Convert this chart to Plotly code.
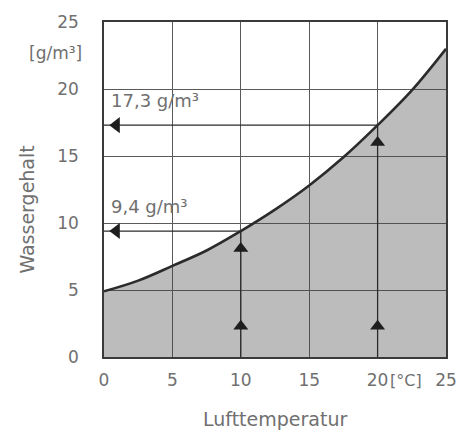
import plotly.graph_objects as go

# Data
temperature = [0, 2.5, 5, 7.5, 10, 12.5, 15, 17.5, 20, 22.5, 25]
water_content = [4.9, 5.7, 6.8, 7.95, 9.4, 11.0, 12.8, 14.9, 17.3, 19.9, 23.0]
example_temps = [10, 20]
example_values = [9.4, 17.3]
example_labels = ["9,4 g/m³", "17,3 g/m³"]
x_ticks = [0, 5, 10, 15, 20, 25]
y_ticks = [0, 5, 10, 15, 20, 25]

font_family = "DejaVu Sans, Arial, sans-serif"
txt = "#707070"
dark = "#2b2b2b"

fig = go.Figure()

# gray area below the curve
fig.add_trace(go.Scatter(
    x=temperature, y=water_content, mode="lines",
    line=dict(color=dark, width=2.6, shape="spline", smoothing=1.0),
    fill="tozeroy", fillcolor="rgba(70,70,70,0.36)",
    hoverinfo="skip", showlegend=False))

for t, v in zip(example_temps, example_values):
    fig.add_trace(go.Scatter(x=[t, t], y=[0, v], mode="lines",
                             line=dict(color=dark, width=1.3),
                             hoverinfo="skip", showlegend=False))
    fig.add_trace(go.Scatter(x=[0, t], y=[v, v], mode="lines",
                             line=dict(color=dark, width=1.3),
                             hoverinfo="skip", showlegend=False))
    fig.add_trace(go.Scatter(x=[t, t], y=[2.3, v - 1.3], mode="markers",
                             marker=dict(symbol="triangle-up", size=13, color="#1e1e1e"),
                             hoverinfo="skip", showlegend=False))
    fig.add_trace(go.Scatter(x=[0.9], y=[v], mode="markers",
                             marker=dict(symbol="triangle-left", size=14, color="#1e1e1e"),
                             hoverinfo="skip", showlegend=False))

annotations = []
for v, lab in zip(example_values, example_labels):
    annotations.append(dict(x=0.4, y=v + 1.85, xref="x", yref="y", text=lab,
                            showarrow=False, xanchor="left", yanchor="middle",
                            font=dict(size=18, color=txt, family=font_family)))

annotations += [
    dict(x=0, y=22.7, xref="paper", yref="y", text="[g/m³]", showarrow=False,
         xanchor="right", yanchor="middle", xshift=-20,
         font=dict(size=17, color=txt, family=font_family)),
    dict(x=22.1, y=0, xref="x", yref="y", text="[°C]", showarrow=False,
         xanchor="center", yanchor="middle", yshift=-23,
         font=dict(size=16, color=txt, family=font_family)),
    dict(x=0, y=0.44, xref="paper", yref="paper", text="Wassergehalt", showarrow=False,
         textangle=-90, xanchor="center", yanchor="middle", xshift=-77,
         font=dict(size=19, color=txt, family=font_family)),
    dict(x=0.5, y=0, xref="paper", yref="paper", text="Lufttemperatur", showarrow=False,
         xanchor="center", yanchor="middle", yshift=-62,
         font=dict(size=19, color=txt, family=font_family)),
]

fig.update_layout(
    width=473, height=435,
    margin=dict(l=104, r=27, t=18, b=78),
    paper_bgcolor="white", plot_bgcolor="white",
    annotations=annotations,
    font=dict(family=font_family, color=txt),
)
fig.update_xaxes(range=[0, 25], tickvals=x_ticks,
                 showgrid=True, gridcolor="#5a5a5a", gridwidth=1,
                 showline=True, linecolor="#3a3a3a", linewidth=1.5, mirror=True,
                 ticks="outside", ticklen=7, tickcolor="rgba(0,0,0,0)",
                 tickfont=dict(size=17, color=txt), zeroline=False)
fig.update_yaxes(range=[0, 25], tickvals=y_ticks,
                 showgrid=True, gridcolor="#5a5a5a", gridwidth=1,
                 showline=True, linecolor="#3a3a3a", linewidth=1.5, mirror=True,
                 ticks="outside", ticklen=20, tickcolor="rgba(0,0,0,0)",
                 tickfont=dict(size=17, color=txt), zeroline=False)

fig.write_html("out.html", config={"displayModeBar": False},
               post_script="document.body.style.margin='0px';")
